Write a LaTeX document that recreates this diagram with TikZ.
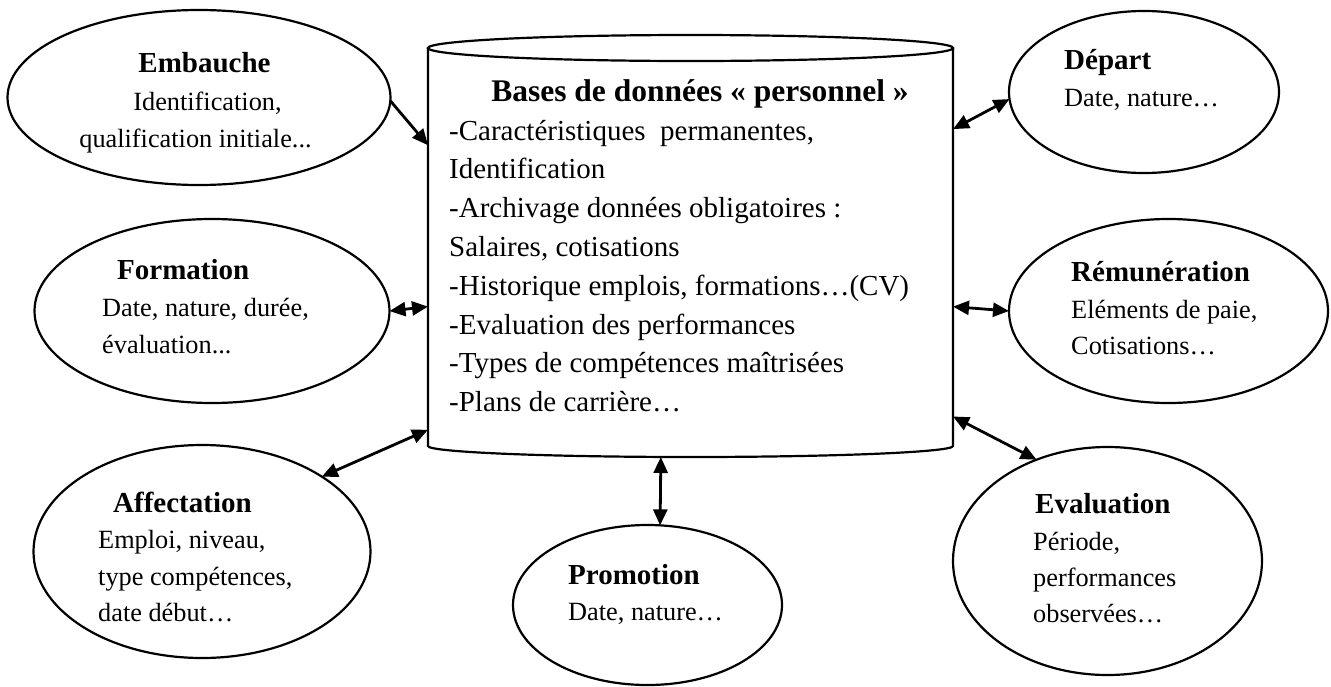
\documentclass[tikz,border=0pt]{standalone}
\usepackage{fontspec}
\setmainfont{Liberation Serif}
\usetikzlibrary{shapes.geometric,arrows.meta}
\begin{document}
\begin{tikzpicture}[x=1pt,y=-1pt,
  bubble/.style={ellipse, draw, line width=2.2pt, inner sep=0pt, outer sep=0pt},
  ttl/.style={inner sep=0pt, anchor=base west, font=\fontsize{29}{35}\selectfont\bfseries},
  txt/.style={inner sep=0pt, anchor=base west, font=\fontsize{26.3}{32}\selectfont},
  dbttl/.style={inner sep=0pt, anchor=base, font=\fontsize{31.5}{38}\selectfont\bfseries},
  dbtxt/.style={inner sep=0pt, anchor=base west, font=\fontsize{29}{35}\selectfont},
  outline/.style={line width=2.2pt},
  link/.style={line width=2.8pt, {Triangle[length=16pt,width=14pt]}-{Triangle[length=16pt,width=14pt]}},
  feed/.style={line width=2.8pt, -{Triangle[length=16pt,width=14pt]}},
]
\fill[white] (0,0) rectangle (1331,686);
\useasboundingbox (0,0) rectangle (1331,686);

% central database cylinder
\node[minimum width=525pt, minimum height=422pt, inner sep=0pt, outer sep=0pt] (db) at (690.5,246) {};
\draw[outline] ([yshift=-13pt]db.north west) -- ([yshift=11pt]db.south west)
  arc[start angle=180, end angle=360, x radius=262.5pt, y radius=11pt]
  -- ([yshift=-13pt]db.north east);
\draw[outline] ([yshift=-13pt]db.north) ellipse[x radius=262.5pt, y radius=13pt];

\node[dbttl] (dbT) at (700,101) {Bases de données « personnel »};
\node[dbtxt] (db1) at (449,140) {-Caractéristiques\ \ permanentes,};
\node[dbtxt] (db2) at (449,178.8) {Identification};
\node[dbtxt] (db3) at (449,217.6) {-Archivage données obligatoires :};
\node[dbtxt] (db4) at (449,256.4) {Salaires, cotisations};
\node[dbtxt] (db5) at (449,295.2) {-Historique emplois, formations…(CV)};
\node[dbtxt] (db6) at (449,334) {-Evaluation des performances};
\node[dbtxt] (db7) at (449,372.8) {-Types de compétences maîtrisées};
\node[dbtxt] (db8) at (449,411.6) {-Plans de carrière…};

% surrounding processes
\node[bubble, minimum width=383pt, minimum height=175pt] (emb) at (199,97.5) {};
\node[bubble, minimum width=355pt, minimum height=184pt] (form) at (212,311) {};
\node[bubble, minimum width=337pt, minimum height=213pt] (aff) at (202,551.5) {};
\node[bubble, minimum width=269pt, minimum height=160pt] (promo) at (647.5,605) {};
\node[bubble, minimum width=270pt, minimum height=162pt] (dep) at (1144,92) {};
\node[bubble, minimum width=319pt, minimum height=184pt] (rem) at (1168.5,311) {};
\node[bubble, minimum width=309pt, minimum height=228pt] (eval) at (1107.5,561) {};

\node[ttl, anchor=base] (embT) at (204.5,72) {Embauche};
\node[txt, anchor=base] (embA) at (207.5,110) {Identification,};
\node[txt, anchor=base] (embB) at (195.5,147) {qualification initiale...};

\node[ttl] (formT) at (117,279) {Formation};
\node[txt] (formA) at (102,316) {Date, nature, durée,};
\node[txt] (formB) at (102,353) {évaluation...};

\node[ttl] (affT) at (113,512) {Affectation};
\node[txt] (affA) at (98,548) {Emploi, niveau,};
\node[txt] (affB) at (98,585) {type compétences,};
\node[txt] (affC) at (98,621) {date début…};

\node[ttl] (promoT) at (568,584) {Promotion};
\node[txt] (promoA) at (568,620) {Date, nature…};

\node[ttl] (depT) at (1064,69) {Départ};
\node[txt] (depA) at (1064,106) {Date, nature…};

\node[ttl] (remT) at (1071,281) {Rémunération};
\node[txt] (remA) at (1071,318) {Eléments de paie,};
\node[txt] (remB) at (1071,354) {Cotisations…};

\node[ttl] (evalT) at (1035,513) {Evaluation};
\node[txt] (evalA) at (1033,550) {Période,};
\node[txt] (evalB) at (1033,586) {performances};
\node[txt] (evalC) at (1033,622) {observées…};

% connectors
\draw[feed] (emb.-1) -- (db.159.15);
\draw[link] (form.east) -- (db.193.91);
\draw[link] (aff.32.7) -- (db.215.75);
\draw[link] (promo.81.1) -- (db.-98.23);
\draw[link] (dep.183.8) -- (db.24.39);
\draw[link] (rem.west) -- (db.-13.91);
\draw[link] (eval.125.6) -- (db.-33.08);
\end{tikzpicture}
\end{document}
